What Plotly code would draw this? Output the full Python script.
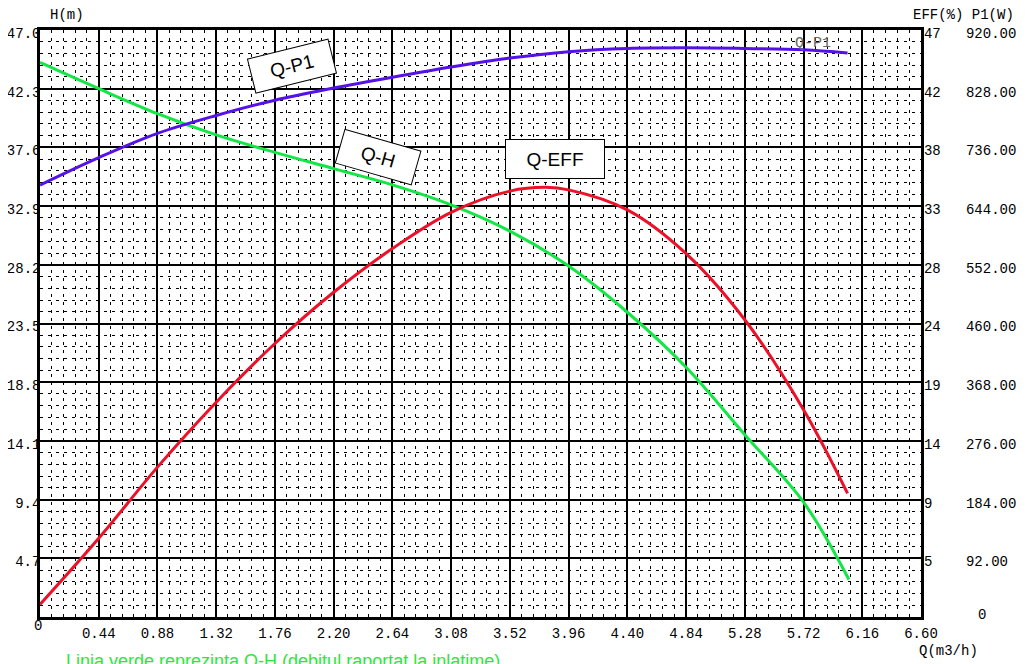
import plotly.graph_objects as go

# ---- data ----
q_h = [0, 0.44, 0.88, 1.32, 1.76, 2.20, 2.64, 3.08, 3.52, 3.96, 4.40, 4.84, 5.28, 5.72, 6.06]
head = [44.4, 42.3, 40.3, 38.6, 37.2, 35.9, 34.6, 33.0, 30.9, 28.1, 24.4, 20.0, 14.6, 9.2, 3.0]

q_eff = [0, 0.44, 0.88, 1.32, 1.76, 2.20, 2.64, 3.08, 3.52, 3.79, 3.96, 4.40, 4.84, 5.28, 5.72, 6.05]
eff = [1.0, 6.3, 12.0, 17.2, 21.9, 26.0, 29.5, 32.4, 34.1, 34.4, 34.2, 32.6, 29.1, 23.8, 16.6, 9.9]

q_p1 = [0, 0.44, 0.88, 1.32, 1.76, 2.20, 2.64, 3.08, 3.52, 3.96, 4.40, 4.84, 5.28, 5.72, 6.05]
p1 = [677, 720, 758, 786, 810, 829, 846, 862, 876, 886, 891, 892, 891, 889, 884]

x_tickvals = [0.44, 0.88, 1.32, 1.76, 2.20, 2.64, 3.08, 3.52, 3.96, 4.40, 4.84, 5.28, 5.72, 6.16, 6.60]
x_ticktext = ["0.44", "0.88", "1.32", "1.76", "2.20", "2.64", "3.08", "3.52", "3.96", "4.40",
              "4.84", "5.28", "5.72", "6.16", "6.60"]
h_tickvals = [4.7, 9.4, 14.1, 18.8, 23.5, 28.2, 32.9, 37.6, 42.3, 47.0]
h_ticktext = ["4.7", "9.4", "14.1", "18.8", "23.5", "28.2", "32.9", "37.6", "42.3", "47.0"]
eff_ticktext = ["5", "9", "14", "19", "24", "28", "33", "38", "42", "47"]
p1_tickvals = [92, 184, 276, 368, 460, 552, 644, 736, 828, 920]
p1_ticktext = ["92.00", "184.00", "276.00", "368.00", "460.00", "552.00", "644.00",
               "736.00", "828.00", "920.00"]

MONO = "Liberation Mono"
tickfont = dict(family=MONO, size=14, color="black")

fig = go.Figure()
fig.add_trace(go.Scatter(x=q_h, y=head, mode="lines", name="Q-H",
                         line=dict(color="#14e646", width=3, shape="spline", smoothing=1.0),
                         yaxis="y"))
fig.add_trace(go.Scatter(x=q_eff, y=eff, mode="lines", name="Q-EFF",
                         line=dict(color="#ec1028", width=3, shape="spline", smoothing=1.0),
                         yaxis="y2"))
fig.add_trace(go.Scatter(x=q_p1, y=p1, mode="lines", name="Q-P1",
                         line=dict(color="#5512e8", width=3, shape="spline", smoothing=1.0),
                         yaxis="y3"))

minor_common = dict(showgrid=True, gridcolor="black", gridwidth=1, griddash="3px,5px", ticks="")

# the page body has an 8px margin, so the figure is sized/offset to compensate
fig.update_layout(
    width=1026, height=656, autosize=False,
    margin=dict(l=32, r=10, t=22, b=47, autoexpand=False),
    paper_bgcolor="white", plot_bgcolor="white",
    showlegend=False,
    xaxis=dict(domain=[0, 0.8953], range=[0, 6.6], tickmode="array", automargin=False,
               tickvals=x_tickvals, ticktext=x_ticktext, tickfont=tickfont,
               showgrid=True, gridcolor="black", gridwidth=2, zeroline=False,
               showline=True, mirror=True, linecolor="black", linewidth=2.5,
               ticks="", ticklen=0, ticklabelstandoff=1, fixedrange=True,
               minor=dict(tickmode="linear", tick0=0, dtick=0.088, **minor_common)),
    yaxis=dict(range=[0, 47], tickmode="array", tickvals=h_tickvals, ticktext=h_ticktext,
               automargin=False, tickfont=tickfont, showgrid=True, gridcolor="black", gridwidth=2,
               zeroline=False, showline=True, mirror=True, linecolor="black", linewidth=2.5,
               ticks="", ticklen=0, ticklabelstandoff=-6, ticklabelshift=3,
               minor=dict(tickmode="linear", tick0=0, dtick=0.94, **minor_common)),
    yaxis2=dict(range=[0, 47], overlaying="y", side="right", anchor="x", automargin=False,
                tickmode="array", tickvals=h_tickvals, ticktext=eff_ticktext,
                tickfont=tickfont, showgrid=False, zeroline=False, showline=False,
                ticks="", ticklen=0, ticklabelstandoff=2, ticklabelshift=3),
    yaxis3=dict(range=[0, 920], overlaying="y", side="right", anchor="free", position=0.94,
                automargin=False, tickmode="array", tickvals=p1_tickvals, ticktext=p1_ticktext,
                tickfont=tickfont, showgrid=False, zeroline=False, showline=False,
                ticks="", ticklen=0, ticklabelshift=3),
)

box = dict(showarrow=False, bgcolor="white", bordercolor="black", borderwidth=1,
           font=dict(family="Liberation Sans", size=19, color="black"), xref="x", yref="y")
fig.add_annotation(text="Q-P1", x=1.89, y=44.1, textangle=-14, width=80, height=32, **box)
fig.add_annotation(text="Q-H", x=2.53, y=36.8, textangle=16, width=76, height=32, **box)
fig.add_annotation(text="Q-EFF", x=3.86, y=36.7, textangle=0, width=96, height=36, **box)

# faint label printed in the original chart
fig.add_annotation(text="Q-P1", x=5.94, y=45.95, xref="x", yref="y", showarrow=False,
                   xanchor="right", yanchor="middle",
                   font=dict(family=MONO, size=15, color="#666666"))

# axis titles and origin labels
txt = dict(family=MONO, size=14, color="black")
fig.add_annotation(text="H(m)", xref="paper", yref="paper", x=0.027, y=1.0, yshift=15,
                   xanchor="center", yanchor="middle", showarrow=False, font=txt)
fig.add_annotation(text="EFF(%) P1(W)", xref="paper", yref="paper", x=0.939, y=1.0, yshift=15,
                   xanchor="center", yanchor="middle", showarrow=False, font=txt)
fig.add_annotation(text="Q(m3/h)", xref="paper", yref="paper", x=0.923, y=0, yshift=-34,
                   xanchor="center", yanchor="middle", showarrow=False, font=txt)
fig.add_annotation(text="0", xref="x", yref="paper", x=0, y=0, yshift=-9, xshift=-2,
                   xanchor="center", yanchor="middle", showarrow=False, font=txt)
fig.add_annotation(text="0", xref="paper", yref="y3", x=0.957, y=0, yshift=2,
                   xanchor="center", yanchor="middle", showarrow=False, font=txt)

# caption (cut off at the bottom edge, as in the original)
fig.add_annotation(text="Linia verde reprezinta Q-H (debitul raportat la inlatime)",
                   xref="paper", yref="paper", x=0.247, y=0, yshift=-32, yanchor="top",
                   xanchor="center", showarrow=False,
                   font=dict(family="Liberation Sans", size=18, color="#2ee63a"))

fig.write_html("out.html")
